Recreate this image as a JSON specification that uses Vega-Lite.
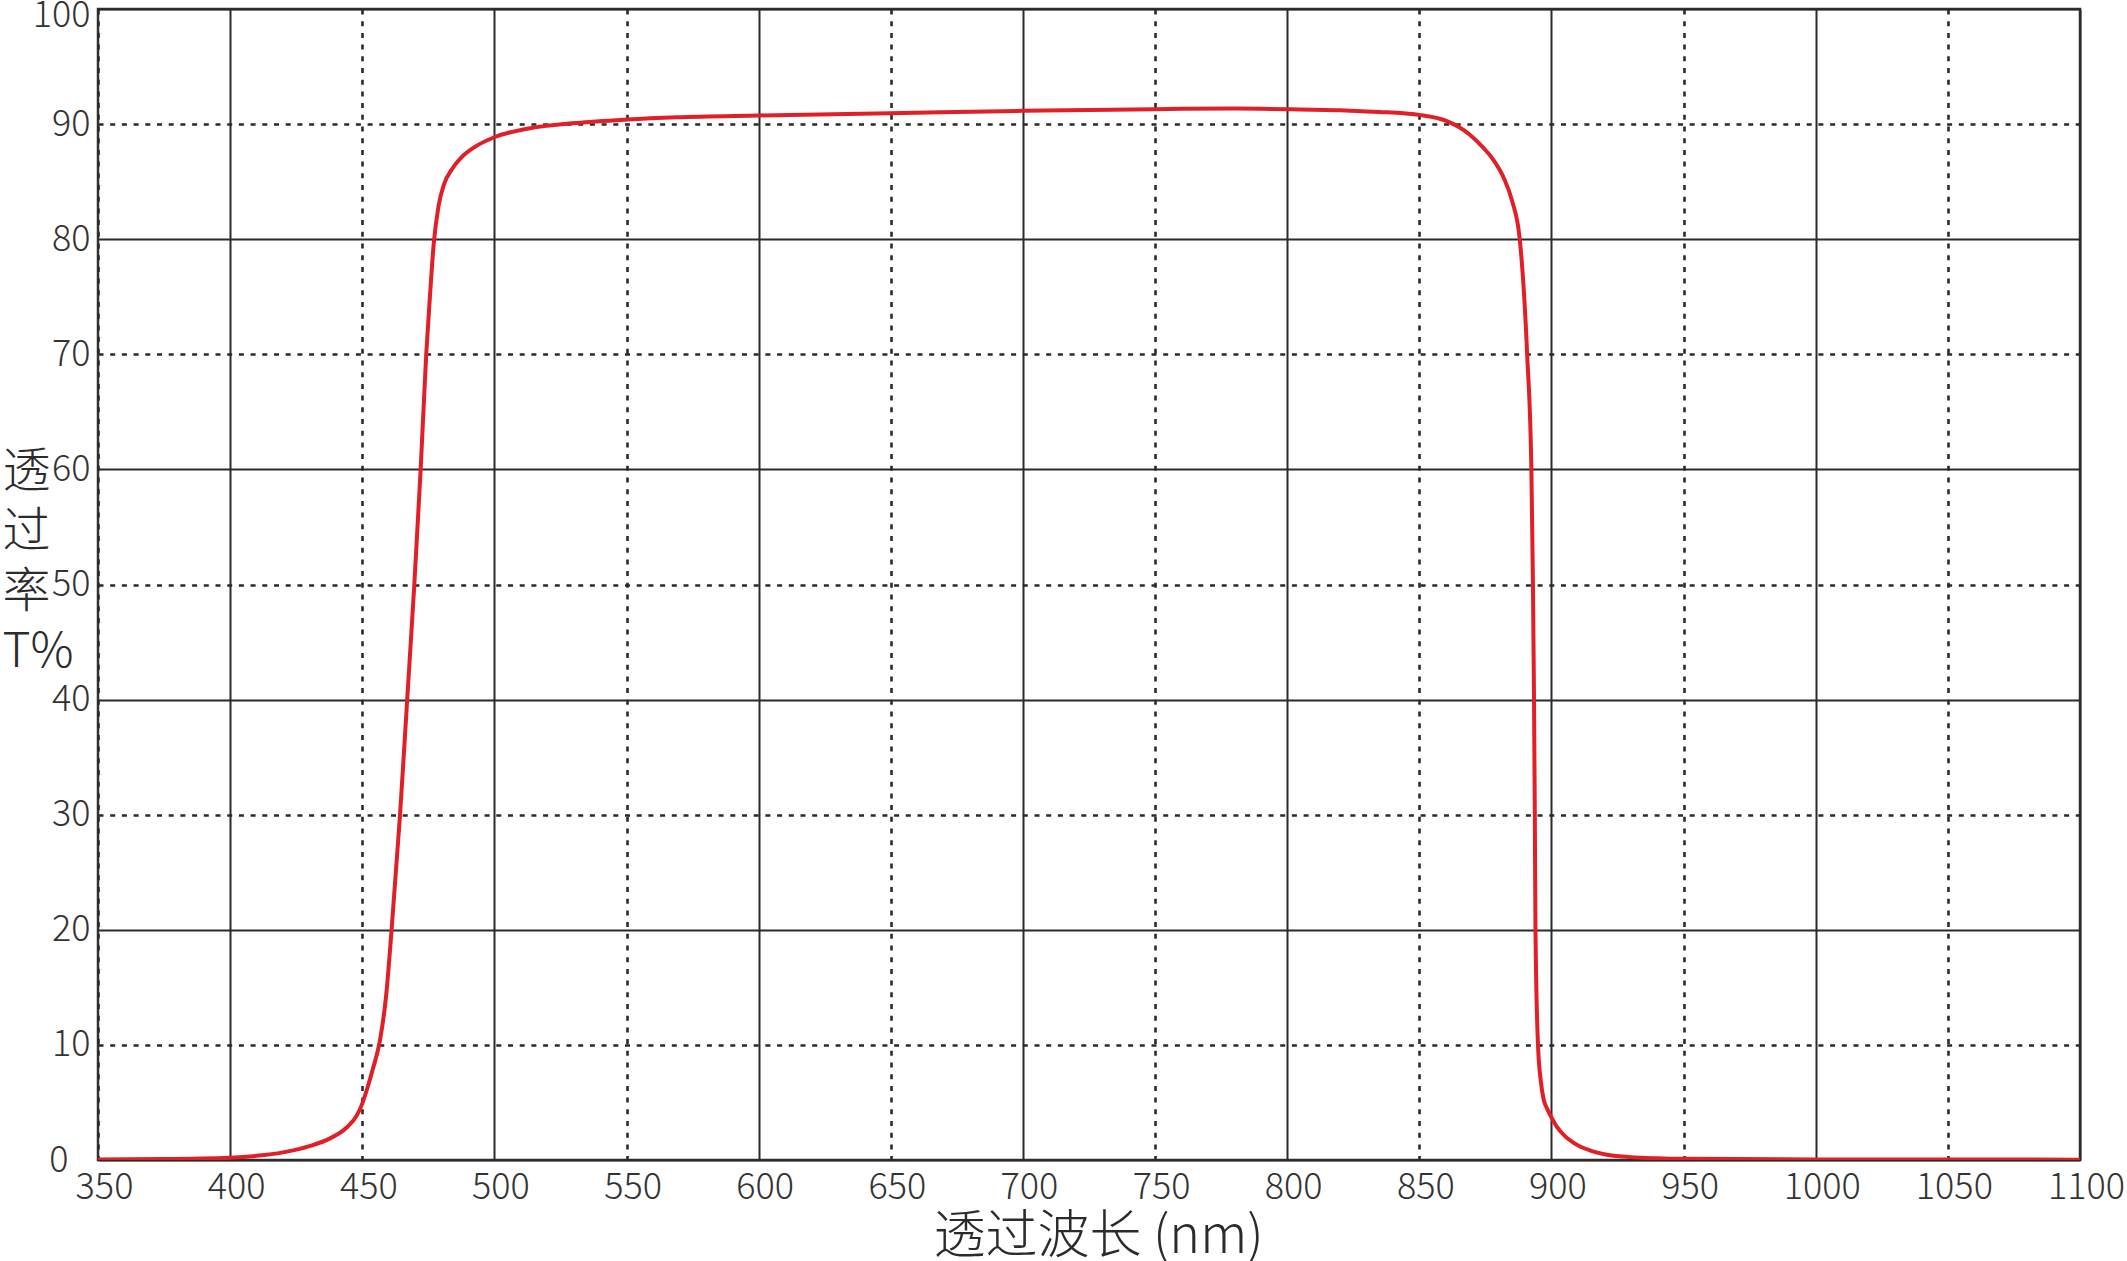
{
  "$schema": "https://vega.github.io/schema/vega-lite/v6.json",
  "autosize": {"type": "none"},
  "padding": {"left": 98, "top": 9, "right": 47, "bottom": 101},
  "width": 1982,
  "height": 1151,
  "background": "#ffffff",
  "config": {
    "view": {"stroke": "#333333", "strokeWidth": 2.5},
    "font": "Noto Sans CJK SC"
  },
  "data": {
    "values": [
      {"wl": 350, "T": 0.05}, {"wl": 375, "T": 0.08}, {"wl": 400, "T": 0.2}, {"wl": 410, "T": 0.36},
      {"wl": 420, "T": 0.66}, {"wl": 430, "T": 1.2}, {"wl": 438, "T": 1.9}, {"wl": 444, "T": 2.8},
      {"wl": 448, "T": 3.9}, {"wl": 450, "T": 4.9}, {"wl": 452, "T": 6.3}, {"wl": 454, "T": 7.9},
      {"wl": 456.7, "T": 10.4}, {"wl": 459, "T": 14.2}, {"wl": 461.1, "T": 20}, {"wl": 464.3, "T": 30},
      {"wl": 467, "T": 40}, {"wl": 469.7, "T": 50}, {"wl": 472.1, "T": 60}, {"wl": 474.2, "T": 70},
      {"wl": 475.6, "T": 75}, {"wl": 477, "T": 79.5}, {"wl": 478.8, "T": 82.8}, {"wl": 481, "T": 84.8},
      {"wl": 484, "T": 86.1}, {"wl": 487.5, "T": 87.1}, {"wl": 492.5, "T": 88}, {"wl": 500.5, "T": 88.9},
      {"wl": 512.5, "T": 89.6}, {"wl": 531, "T": 90.1}, {"wl": 550, "T": 90.4}, {"wl": 569, "T": 90.6},
      {"wl": 600, "T": 90.75}, {"wl": 650, "T": 90.95}, {"wl": 700, "T": 91.15}, {"wl": 750, "T": 91.3},
      {"wl": 780, "T": 91.35}, {"wl": 800, "T": 91.3}, {"wl": 820, "T": 91.2}, {"wl": 835, "T": 91.05},
      {"wl": 844, "T": 90.95}, {"wl": 850, "T": 90.8}, {"wl": 860, "T": 90.3}, {"wl": 869, "T": 89.1},
      {"wl": 874, "T": 88.0}, {"wl": 878, "T": 86.9}, {"wl": 882, "T": 85.3}, {"wl": 885, "T": 83.4},
      {"wl": 888, "T": 80}, {"wl": 890.8, "T": 70}, {"wl": 892.4, "T": 60}, {"wl": 893.0, "T": 50},
      {"wl": 893.4, "T": 40}, {"wl": 893.7, "T": 30}, {"wl": 893.95, "T": 20}, {"wl": 894.9, "T": 10},
      {"wl": 896, "T": 6.8}, {"wl": 897, "T": 5.3}, {"wl": 898.5, "T": 4.4}, {"wl": 900, "T": 3.7},
      {"wl": 902, "T": 2.9}, {"wl": 905, "T": 2.1}, {"wl": 908, "T": 1.55}, {"wl": 911, "T": 1.15},
      {"wl": 915, "T": 0.8}, {"wl": 920, "T": 0.5}, {"wl": 930, "T": 0.25}, {"wl": 940, "T": 0.15},
      {"wl": 950, "T": 0.1}, {"wl": 1000, "T": 0.05}, {"wl": 1100, "T": 0.03}
    ]
  },
  "mark": {"type": "line", "color": "#e01f27", "strokeWidth": 4, "interpolate": "monotone", "clip": true},
  "encoding": {
    "x": {
      "field": "wl",
      "type": "quantitative",
      "scale": {"domain": [350, 1100], "nice": false, "zero": false},
      "axis": {
        "values": [350, 400, 450, 500, 550, 600, 650, 700, 750, 800, 850, 900, 950, 1000, 1050, 1100],
        "format": "d",
        "title": "透过波长 (nm)",
        "titleFont": "Noto Sans CJK SC",
        "titleFontSize": 52,
        "titleFontWeight": 300,
        "titleColor": "#2b2b2b",
        "titleBaseline": "alphabetic",
        "titleAlign": "center",
        "titleX": 1000,
        "titleY": 92,
        "labelFont": "Noto Sans CJK SC",
        "labelFontSize": 36,
        "labelFontWeight": 300,
        "labelColor": "#333333",
        "labelPadding": 10,
        "labelOffset": 6,
        "labelFlush": false,
        "labelOverlap": false,
        "labelBound": false,
        "ticks": false,
        "domain": false,
        "grid": true,
        "gridColor": "#2a2a2a",
        "gridOpacity": 1,
        "gridWidth": {"condition": {"test": "datum.value % 100 === 0", "value": 2}, "value": 2.6},
        "gridDash": {"condition": {"test": "datum.value % 100 === 0", "value": [1, 0]}, "value": [5, 6.7]}
      }
    },
    "y": {
      "field": "T",
      "type": "quantitative",
      "scale": {"domain": [0, 100], "nice": false},
      "axis": {
        "values": [0, 10, 20, 30, 40, 50, 60, 70, 80, 90, 100],
        "title": ["透", "过", "率", "T%"],
        "titleFont": "Noto Sans CJK SC",
        "titleFontSize": 48,
        "titleFontWeight": 300,
        "titleColor": "#2b2b2b",
        "titleAngle": 0,
        "titleAlign": "left",
        "titleBaseline": "alphabetic",
        "titleLineHeight": 60,
        "titleX": -96,
        "titleY": 477,
        "labelFont": "Noto Sans CJK SC",
        "labelFontSize": 36,
        "labelFontWeight": 300,
        "labelColor": "#333333",
        "labelPadding": {"condition": {"test": "datum.value === 0", "value": 30}, "value": 8},
        "labelOffset": {"condition": {"test": "datum.value === 100", "value": 6}, "value": 0},
        "labelOverlap": false,
        "labelBound": false,
        "labelFlush": false,
        "ticks": false,
        "domain": false,
        "grid": true,
        "gridColor": "#2a2a2a",
        "gridOpacity": 1,
        "gridWidth": {"condition": {"test": "datum.value % 20 === 0", "value": 2}, "value": 2.6},
        "gridDash": {"condition": {"test": "datum.value % 20 === 0", "value": [1, 0]}, "value": [5, 6.7]}
      }
    }
  }
}
